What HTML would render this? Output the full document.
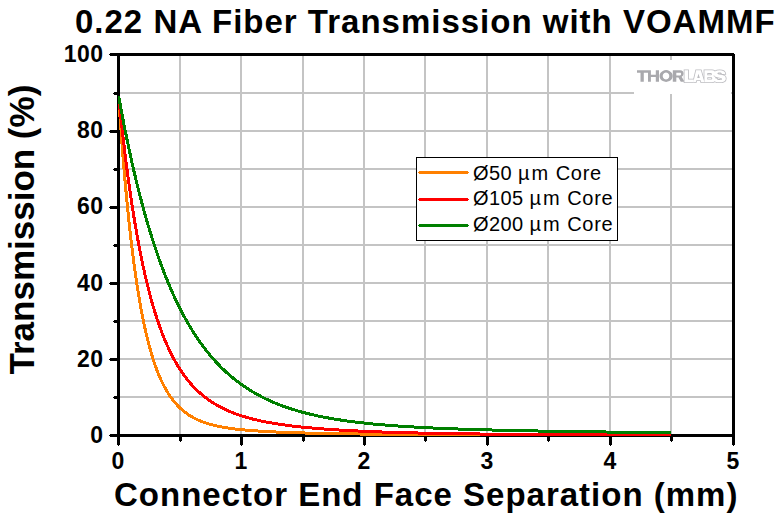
<!DOCTYPE html>
<html><head><meta charset="utf-8"><style>
html,body{margin:0;padding:0;background:#fff;}
svg{display:block;}
text{font-family:"Liberation Sans",sans-serif;}
</style></head><body>
<svg width="780" height="515" viewBox="0 0 780 515">
<rect x="0" y="0" width="780" height="515" fill="#fff"/>
<g shape-rendering="crispEdges">
<rect x="179" y="56" width="2" height="378" fill="#c4c4c4"/>
<rect x="240" y="56" width="2" height="378" fill="#c4c4c4"/>
<rect x="302" y="56" width="2" height="378" fill="#c4c4c4"/>
<rect x="363" y="56" width="2" height="378" fill="#c4c4c4"/>
<rect x="424" y="56" width="2" height="378" fill="#c4c4c4"/>
<rect x="486" y="56" width="2" height="378" fill="#c4c4c4"/>
<rect x="547" y="56" width="2" height="378" fill="#c4c4c4"/>
<rect x="609" y="56" width="2" height="378" fill="#c4c4c4"/>
<rect x="670" y="56" width="2" height="378" fill="#c4c4c4"/>
<rect x="120" y="396" width="612" height="2" fill="#c4c4c4"/>
<rect x="120" y="358" width="612" height="2" fill="#c4c4c4"/>
<rect x="120" y="320" width="612" height="2" fill="#c4c4c4"/>
<rect x="120" y="282" width="612" height="2" fill="#c4c4c4"/>
<rect x="120" y="244" width="612" height="2" fill="#c4c4c4"/>
<rect x="120" y="206" width="612" height="2" fill="#c4c4c4"/>
<rect x="120" y="168" width="612" height="2" fill="#c4c4c4"/>
<rect x="120" y="130" width="612" height="2" fill="#c4c4c4"/>
<rect x="120" y="92" width="612" height="2" fill="#c4c4c4"/>
<rect x="634" y="60" width="97" height="34" fill="#fff"/>
</g>
<g fill="#a9a9ad" fill-rule="evenodd">
<path d="M637,70.2H648V72.7H643.8V81.8H640.5V72.7H637Z"/>
<path d="M648,70.2H650.9V74.8H655.8V70.2H659V81.8H655.8V77H650.9V81.8H648Z"/>
<path d="M666.1,70.1A6.6,5.9 0 1 0 666.11,70.1Z M666,72.6A3.3,3.5 0 1 1 665.99,72.6Z"/>
<path d="M672.8,70.2H680.2C682.6,70.2 683.6,71.6 683.6,73.6C683.6,75.2 682.8,76.3 681.6,76.8L684.6,81.8H680.8L678.4,77.4H676.3V81.8H672.8Z M676.3,72.8H680C680.8,72.8 681.1,73.3 681.1,74.1C681.1,74.9 680.8,75.4 680,75.4H676.3Z"/>
</g>
<defs><g id="labs" fill-rule="evenodd">
<path d="M684.5,70.3H688.1V79.5H693.8V82.2H684.5Z"/>
<path d="M693.3,82.2L696.1,70.3H700.9L704.4,82.2H701.2L700.7,80.3H696.3L695.8,82.2Z M697.2,77.9L698.5,73.8L699.8,77.9Z"/>
<path d="M704.4,70.3H712C714.3,70.3 715.2,71.5 715.2,73.1C715.2,74.5 714.4,75.4 713.4,75.9C714.9,76.3 715.6,77.4 715.6,78.8C715.6,81 714.3,82.2 711.8,82.2H704.4Z M707.3,73.1H710.7C711.4,73.1 711.8,73.5 711.8,74.2C711.8,74.9 711.4,75.3 710.7,75.3H707.3Z M707.3,77.3H711C711.8,77.3 712.2,77.8 712.2,78.5C712.2,79.2 711.8,79.6 711,79.6H707.3Z"/>
<path d="M725.3,73.9C725.1,71.6 723.2,70.3 719.6,70.3C715.9,70.3 713.8,71.7 713.8,74C713.8,76.3 715.6,77 718.2,77.5L720.6,78C721.6,78.2 722.1,78.5 722.1,79C722.1,79.6 721.2,79.9 719.6,79.9C717.9,79.9 717,79.4 716.8,78.4L713.3,78.4C713.4,81 715.5,82.3 719.6,82.3C723.6,82.3 725.8,80.9 725.8,78.4C725.8,76 724,75.3 721.2,74.8L718.9,74.4C717.9,74.2 717.4,74 717.4,73.5C717.4,72.9 718.2,72.6 719.5,72.6C720.9,72.6 721.7,73 721.9,73.9Z"/>
</g></defs>
<use href="#labs" fill="none" stroke="#bcbcc0" stroke-width="1.6"/>
<use href="#labs" fill="#fff"/>
<g shape-rendering="crispEdges" fill="#000">
<rect x="117" y="53" width="3" height="384"/>
<rect x="732" y="54" width="3" height="383"/>
<rect x="117" y="53" width="617" height="3"/><rect x="732" y="53" width="2" height="1"/>
<rect x="117" y="434" width="618" height="3"/>
<rect x="117" y="437" width="3" height="8"/><rect x="118" y="445" width="1" height="1"/>
<rect x="179" y="437" width="3" height="4"/><rect x="180" y="441" width="1" height="1"/>
<rect x="240" y="437" width="3" height="8"/><rect x="241" y="445" width="1" height="1"/>
<rect x="302" y="437" width="3" height="4"/><rect x="303" y="441" width="1" height="1"/>
<rect x="363" y="437" width="3" height="8"/><rect x="364" y="445" width="1" height="1"/>
<rect x="424" y="437" width="3" height="4"/><rect x="425" y="441" width="1" height="1"/>
<rect x="486" y="437" width="3" height="8"/><rect x="487" y="445" width="1" height="1"/>
<rect x="547" y="437" width="3" height="4"/><rect x="548" y="441" width="1" height="1"/>
<rect x="609" y="437" width="3" height="8"/><rect x="610" y="445" width="1" height="1"/>
<rect x="670" y="437" width="3" height="4"/><rect x="671" y="441" width="1" height="1"/>
<rect x="732" y="437" width="3" height="8"/><rect x="733" y="445" width="1" height="1"/>
<rect x="110" y="434" width="7" height="3"/><rect x="109" y="435" width="1" height="1"/>
<rect x="114" y="396" width="3" height="3"/><rect x="113" y="397" width="1" height="1"/>
<rect x="110" y="358" width="7" height="3"/><rect x="109" y="359" width="1" height="1"/>
<rect x="114" y="320" width="3" height="3"/><rect x="113" y="321" width="1" height="1"/>
<rect x="110" y="282" width="7" height="3"/><rect x="109" y="283" width="1" height="1"/>
<rect x="114" y="244" width="3" height="3"/><rect x="113" y="245" width="1" height="1"/>
<rect x="110" y="206" width="7" height="3"/><rect x="109" y="207" width="1" height="1"/>
<rect x="114" y="168" width="3" height="3"/><rect x="113" y="169" width="1" height="1"/>
<rect x="110" y="130" width="7" height="3"/><rect x="109" y="131" width="1" height="1"/>
<rect x="114" y="92" width="3" height="3"/><rect x="113" y="93" width="1" height="1"/>
<rect x="110" y="53" width="7" height="3"/><rect x="109" y="54" width="1" height="1"/>
</g>
<defs><clipPath id="pc"><rect x="118" y="56" width="614" height="381"/></clipPath></defs>
<g fill="none" stroke-width="3" stroke-linejoin="round" clip-path="url(#pc)" shape-rendering="crispEdges">
<polyline points="118.62,96.00 119.24,105.25 119.85,114.23 120.47,122.96 121.08,131.45 121.69,139.69 122.31,147.71 122.92,155.50 123.53,163.07 124.15,170.43 124.76,177.58 125.38,184.53 125.99,191.28 126.60,197.85 127.22,204.23 127.83,210.43 128.44,216.46 129.06,222.32 129.67,228.01 130.29,233.55 130.90,238.93 131.51,244.16 132.13,249.24 132.74,254.18 133.35,258.98 133.97,263.65 134.58,268.19 135.20,272.60 135.81,276.89 136.42,281.06 137.04,285.11 137.65,289.05 138.26,292.88 138.88,296.60 139.49,300.22 140.11,303.74 140.72,307.16 141.33,310.48 141.95,313.72 142.56,316.86 143.18,319.92 143.79,322.89 144.40,325.78 145.02,328.58 145.63,331.32 146.24,333.97 146.86,336.55 147.47,339.06 148.09,341.51 148.70,343.88 149.31,346.19 149.93,348.43 150.54,350.62 151.15,352.74 151.77,354.80 152.38,356.81 153.00,358.77 153.61,360.66 154.22,362.51 154.84,364.31 155.45,366.06 156.06,367.76 156.68,369.41 157.29,371.02 157.91,372.58 158.52,374.10 159.13,375.58 159.75,377.02 160.36,378.43 160.97,379.79 161.59,381.11 162.20,382.40 162.81,383.66 163.43,384.88 164.04,386.07 164.66,387.23 165.27,388.35 165.88,389.45 166.50,390.51 167.11,391.55 167.72,392.56 168.34,393.54 168.95,394.49 169.57,395.42 170.18,396.33 170.79,397.21 171.41,398.07 172.02,398.90 172.63,399.72 173.25,400.51 173.86,401.28 174.48,402.03 175.09,402.76 175.70,403.47 176.32,404.16 176.93,404.84 177.54,405.49 178.16,406.13 178.77,406.76 179.39,407.36 180.00,407.95 180.61,408.53 181.23,409.09 181.84,409.64 182.46,410.17 183.07,410.69 183.68,411.19 184.30,411.68 184.91,412.16 185.52,412.63 186.14,413.09 186.75,413.53 187.37,413.96 187.98,414.38 188.59,414.79 189.21,415.19 189.82,415.59 190.43,415.97 191.05,416.34 191.66,416.70 192.27,417.05 193.50,417.73 196.94,419.46 200.37,420.97 203.81,422.29 207.24,423.44 210.68,424.45 214.11,425.34 217.55,426.13 220.98,426.83 224.42,427.45 227.85,428.00 231.29,428.49 234.73,428.94 238.16,429.34 241.60,429.70 245.03,430.02 248.47,430.32 251.90,430.60 255.34,430.85 258.77,431.08 262.21,431.29 265.64,431.48 269.08,431.66 272.51,431.83 275.95,431.99 279.38,432.14 282.82,432.28 286.25,432.41 289.69,432.53 293.12,432.64 296.56,432.75 299.99,432.86 303.43,432.95 306.87,433.05 310.30,433.13 313.74,433.22 317.17,433.29 320.61,433.37 324.04,433.44 327.48,433.51 330.91,433.57 334.35,433.63 337.78,433.69 341.22,433.75 344.65,433.80 348.09,433.86 351.52,433.90 354.96,433.95 358.39,434.00 361.83,434.04 365.26,434.08 368.70,434.12 372.13,434.16 375.57,434.19 379.01,434.23 382.44,434.26 385.88,434.29 389.31,434.32 392.75,434.35 396.18,434.38 399.62,434.40 403.05,434.43 406.49,434.45 409.92,434.48 413.36,434.50 416.79,434.52 420.23,434.54 423.66,434.56 427.10,434.58 430.53,434.60 433.97,434.61 437.40,434.63 440.84,434.64 444.27,434.66 447.71,434.67 451.15,434.69 454.58,434.70 458.02,434.71 461.45,434.73 464.89,434.74 468.32,434.75 471.76,434.76 475.19,434.77 478.63,434.78 482.06,434.79 485.50,434.80 488.93,434.81 492.37,434.81 495.80,434.82 499.24,434.83 502.67,434.84 506.11,434.84 509.54,434.85 512.98,434.86 516.41,434.86 519.85,434.87 523.28,434.87 526.72,434.88 530.16,434.88 533.59,434.89 537.03,434.89 540.46,434.90 543.90,434.90 547.33,434.91 550.77,434.91 554.20,434.91 557.64,434.92 561.07,434.92 564.51,434.92 567.94,434.93 571.38,434.93 574.81,434.93 578.25,434.94 581.68,434.94 585.12,434.94 588.55,434.94 591.99,434.95 595.42,434.95 598.86,434.95 602.30,434.95 605.73,434.96 609.17,434.96 612.60,434.96 616.04,434.96 619.47,434.96 622.91,434.96 626.34,434.97 629.78,434.97 633.21,434.97 636.65,434.97 640.08,434.97 643.52,434.97 646.95,434.97 650.39,434.97 653.82,434.98 657.26,434.98 660.69,434.98 664.13,434.98 667.56,434.98 671.00,434.98" stroke="#ff8000"/>
<polyline points="118.62,96.00 119.24,102.06 119.85,107.99 120.47,113.82 121.08,119.53 121.69,125.14 122.31,130.63 122.92,136.02 123.53,141.31 124.15,146.50 124.76,151.58 125.38,156.57 125.99,161.47 126.60,166.27 127.22,170.98 127.83,175.60 128.44,180.13 129.06,184.57 129.67,188.93 130.29,193.21 130.90,197.41 131.51,201.52 132.13,205.56 132.74,209.52 133.35,213.41 133.97,217.22 134.58,220.96 135.20,224.63 135.81,228.23 136.42,231.76 137.04,235.23 137.65,238.63 138.26,241.97 138.88,245.24 139.49,248.45 140.11,251.60 140.72,254.70 141.33,257.73 141.95,260.71 142.56,263.63 143.18,266.50 143.79,269.31 144.40,272.07 145.02,274.78 145.63,277.44 146.24,280.05 146.86,282.61 147.47,285.12 148.09,287.59 148.70,290.01 149.31,292.39 149.93,294.72 150.54,297.01 151.15,299.25 151.77,301.46 152.38,303.62 153.00,305.74 153.61,307.83 154.22,309.88 154.84,311.88 155.45,313.86 156.06,315.79 156.68,317.69 157.29,319.56 157.91,321.39 158.52,323.19 159.13,324.95 159.75,326.69 160.36,328.39 160.97,330.06 161.59,331.70 162.20,333.31 162.81,334.89 163.43,336.44 164.04,337.97 164.66,339.47 165.27,340.94 165.88,342.38 166.50,343.80 167.11,345.19 167.72,346.56 168.34,347.90 168.95,349.22 169.57,350.52 170.18,351.79 170.79,353.04 171.41,354.27 172.02,355.47 172.63,356.66 173.25,357.82 173.86,358.96 174.48,360.09 175.09,361.19 175.70,362.27 176.32,363.34 176.93,364.39 177.54,365.41 178.16,366.42 178.77,367.42 179.39,368.39 180.00,369.35 180.61,370.29 181.23,371.21 181.84,372.12 182.46,373.02 183.07,373.89 183.68,374.76 184.30,375.60 184.91,376.44 185.52,377.26 186.14,378.06 186.75,378.85 187.37,379.63 187.98,380.40 188.59,381.15 189.21,381.89 189.82,382.61 190.43,383.33 191.05,384.03 191.66,384.72 192.27,385.40 193.50,386.72 196.94,390.20 200.37,393.37 203.81,396.26 207.24,398.90 210.68,401.31 214.11,403.52 217.55,405.55 220.98,407.41 224.42,409.12 227.85,410.69 231.29,412.14 234.73,413.48 238.16,414.71 241.60,415.86 245.03,416.92 248.47,417.90 251.90,418.82 255.34,419.67 258.77,420.46 262.21,421.20 265.64,421.90 269.08,422.54 272.51,423.15 275.95,423.72 279.38,424.25 282.82,424.76 286.25,425.23 289.69,425.68 293.12,426.10 296.56,426.49 299.99,426.87 303.43,427.23 306.87,427.56 310.30,427.88 313.74,428.19 317.17,428.48 320.61,428.75 324.04,429.01 327.48,429.26 330.91,429.50 334.35,429.72 337.78,429.94 341.22,430.14 344.65,430.34 348.09,430.52 351.52,430.70 354.96,430.87 358.39,431.04 361.83,431.20 365.26,431.35 368.70,431.49 372.13,431.63 375.57,431.76 379.01,431.88 382.44,432.01 385.88,432.12 389.31,432.23 392.75,432.34 396.18,432.44 399.62,432.54 403.05,432.64 406.49,432.73 409.92,432.81 413.36,432.90 416.79,432.98 420.23,433.06 423.66,433.13 427.10,433.20 430.53,433.27 433.97,433.34 437.40,433.40 440.84,433.46 444.27,433.52 447.71,433.58 451.15,433.63 454.58,433.68 458.02,433.73 461.45,433.78 464.89,433.83 468.32,433.87 471.76,433.91 475.19,433.96 478.63,433.99 482.06,434.03 485.50,434.07 488.93,434.10 492.37,434.14 495.80,434.17 499.24,434.20 502.67,434.23 506.11,434.26 509.54,434.29 512.98,434.32 516.41,434.34 519.85,434.37 523.28,434.39 526.72,434.41 530.16,434.44 533.59,434.46 537.03,434.48 540.46,434.50 543.90,434.52 547.33,434.54 550.77,434.55 554.20,434.57 557.64,434.59 561.07,434.60 564.51,434.62 567.94,434.63 571.38,434.65 574.81,434.66 578.25,434.67 581.68,434.68 585.12,434.70 588.55,434.71 591.99,434.72 595.42,434.73 598.86,434.74 602.30,434.75 605.73,434.76 609.17,434.77 612.60,434.78 616.04,434.78 619.47,434.79 622.91,434.80 626.34,434.81 629.78,434.82 633.21,434.82 636.65,434.83 640.08,434.84 643.52,434.84 646.95,434.85 650.39,434.85 653.82,434.86 657.26,434.86 660.69,434.87 664.13,434.87 667.56,434.88 671.00,434.88" stroke="#ff0000"/>
<polyline points="118.62,96.00 119.24,99.40 119.85,102.76 120.47,106.09 121.08,109.38 121.69,112.64 122.31,115.86 122.92,119.05 123.53,122.21 124.15,125.34 124.76,128.43 125.38,131.49 125.99,134.52 126.60,137.52 127.22,140.49 127.83,143.42 128.44,146.33 129.06,149.21 129.67,152.05 130.29,154.87 130.90,157.66 131.51,160.42 132.13,163.15 132.74,165.85 133.35,168.52 133.97,171.17 134.58,173.79 135.20,176.38 135.81,178.95 136.42,181.49 137.04,184.00 137.65,186.49 138.26,188.95 138.88,191.39 139.49,193.80 140.11,196.18 140.72,198.54 141.33,200.88 141.95,203.19 142.56,205.48 143.18,207.75 143.79,209.99 144.40,212.21 145.02,214.40 145.63,216.58 146.24,218.73 146.86,220.86 147.47,222.96 148.09,225.05 148.70,227.11 149.31,229.16 149.93,231.18 150.54,233.18 151.15,235.16 151.77,237.12 152.38,239.06 153.00,240.98 153.61,242.88 154.22,244.76 154.84,246.62 155.45,248.46 156.06,250.28 156.68,252.09 157.29,253.87 157.91,255.64 158.52,257.39 159.13,259.12 159.75,260.83 160.36,262.53 160.97,264.20 161.59,265.86 162.20,267.51 162.81,269.14 163.43,270.75 164.04,272.34 164.66,273.92 165.27,275.48 165.88,277.02 166.50,278.55 167.11,280.06 167.72,281.56 168.34,283.04 168.95,284.51 169.57,285.96 170.18,287.40 170.79,288.82 171.41,290.23 172.02,291.63 172.63,293.00 173.25,294.37 173.86,295.72 174.48,297.06 175.09,298.38 175.70,299.69 176.32,300.99 176.93,302.27 177.54,303.54 178.16,304.80 178.77,306.04 179.39,307.27 180.00,308.49 180.61,309.70 181.23,310.89 181.84,312.08 182.46,313.25 183.07,314.40 183.68,315.55 184.30,316.68 184.91,317.81 185.52,318.92 186.14,320.02 186.75,321.11 187.37,322.18 187.98,323.25 188.59,324.31 189.21,325.35 189.82,326.39 190.43,327.41 191.05,328.42 191.66,329.43 192.27,330.42 193.50,332.37 196.94,337.64 200.37,342.61 203.81,347.30 207.24,351.74 210.68,355.92 214.11,359.88 217.55,363.62 220.98,367.15 224.42,370.48 227.85,373.63 231.29,376.61 234.73,379.43 238.16,382.09 241.60,384.61 245.03,386.99 248.47,389.23 251.90,391.36 255.34,393.37 258.77,395.28 262.21,397.08 265.64,398.78 269.08,400.39 272.51,401.92 275.95,403.36 279.38,404.73 282.82,406.02 286.25,407.25 289.69,408.41 293.12,409.51 296.56,410.56 299.99,411.55 303.43,412.48 306.87,413.37 310.30,414.21 313.74,415.02 317.17,415.77 320.61,416.50 324.04,417.18 327.48,417.83 330.91,418.45 334.35,419.03 337.78,419.59 341.22,420.12 344.65,420.63 348.09,421.11 351.52,421.56 354.96,422.00 358.39,422.41 361.83,422.81 365.26,423.18 368.70,423.54 372.13,423.89 375.57,424.21 379.01,424.52 382.44,424.82 385.88,425.11 389.31,425.38 392.75,425.64 396.18,425.89 399.62,426.13 403.05,426.36 406.49,426.58 409.92,426.79 413.36,426.99 416.79,427.18 420.23,427.37 423.66,427.54 427.10,427.71 430.53,427.88 433.97,428.04 437.40,428.19 440.84,428.34 444.27,428.48 447.71,428.62 451.15,428.75 454.58,428.87 458.02,429.00 461.45,429.12 464.89,429.23 468.32,429.34 471.76,429.45 475.19,429.55 478.63,429.65 482.06,429.75 485.50,429.84 488.93,429.94 492.37,430.03 495.80,430.11 499.24,430.20 502.67,430.28 506.11,430.36 509.54,430.43 512.98,430.51 516.41,430.58 519.85,430.65 523.28,430.72 526.72,430.79 530.16,430.86 533.59,430.92 537.03,430.99 540.46,431.05 543.90,431.11 547.33,431.17 550.77,431.22 554.20,431.28 557.64,431.34 561.07,431.39 564.51,431.44 567.94,431.49 571.38,431.54 574.81,431.59 578.25,431.64 581.68,431.69 585.12,431.74 588.55,431.78 591.99,431.83 595.42,431.87 598.86,431.92 602.30,431.96 605.73,432.00 609.17,432.04 612.60,432.08 616.04,432.12 619.47,432.16 622.91,432.20 626.34,432.24 629.78,432.28 633.21,432.31 636.65,432.35 640.08,432.38 643.52,432.42 646.95,432.45 650.39,432.49 653.82,432.52 657.26,432.55 660.69,432.58 664.13,432.62 667.56,432.65 671.00,432.68" stroke="#008000"/>
</g>
<g font-weight="bold" font-size="23" fill="#000" letter-spacing="0.5">
<text x="103.5" y="443.05" text-anchor="end">0</text>
<text x="103.5" y="366.81" text-anchor="end">20</text>
<text x="103.5" y="290.57" text-anchor="end">40</text>
<text x="103.5" y="214.33" text-anchor="end">60</text>
<text x="103.5" y="138.09" text-anchor="end">80</text>
<text x="103.5" y="61.85" text-anchor="end">100</text>
<text x="118.1" y="468.5" text-anchor="middle">0</text>
<text x="241.1" y="468.5" text-anchor="middle">1</text>
<text x="364.1" y="468.5" text-anchor="middle">2</text>
<text x="487.1" y="468.5" text-anchor="middle">3</text>
<text x="610.1" y="468.5" text-anchor="middle">4</text>
<text x="733.1" y="468.5" text-anchor="middle">5</text>
</g>
<rect x="416.5" y="157.5" width="201" height="83" fill="#fff" stroke="#000" stroke-width="1" shape-rendering="crispEdges"/>
<g shape-rendering="crispEdges">
<rect x="419" y="171" width="49" height="3" fill="#ff8000"/><rect x="418" y="172" width="51" height="1" fill="#ff8000"/>
<rect x="419" y="198" width="49" height="3" fill="#ff0000"/><rect x="418" y="199" width="51" height="1" fill="#ff0000"/>
<rect x="419" y="224" width="49" height="3" fill="#008000"/><rect x="418" y="225" width="51" height="1" fill="#008000"/>
</g>
<g font-size="20" fill="#000" letter-spacing="0.4">
<text x="473" y="179.6">Ø50 <tspan>µ</tspan><tspan dx="1.7">m </tspan><tspan dx="1.0" letter-spacing="0.75">Core</tspan></text>
<text x="473" y="205.3">Ø105 <tspan>µ</tspan><tspan dx="1.7">m </tspan><tspan dx="1.0" letter-spacing="0.75">Core</tspan></text>
<text x="473" y="230.9">Ø200 <tspan>µ</tspan><tspan dx="1.7">m </tspan><tspan dx="1.0" letter-spacing="0.75">Core</tspan></text>
</g>
<text x="75" y="33" font-weight="bold" font-size="33" letter-spacing="1">0.22 NA Fiber Transmission with VOAMMF</text>
<text x="114" y="506" font-weight="bold" font-size="33" letter-spacing="1">Connector End Face Separation (mm)</text>
<text transform="translate(34,374.5) rotate(-90)" font-weight="bold" font-size="35">Transmission (%)</text>
</svg>
</body></html>
